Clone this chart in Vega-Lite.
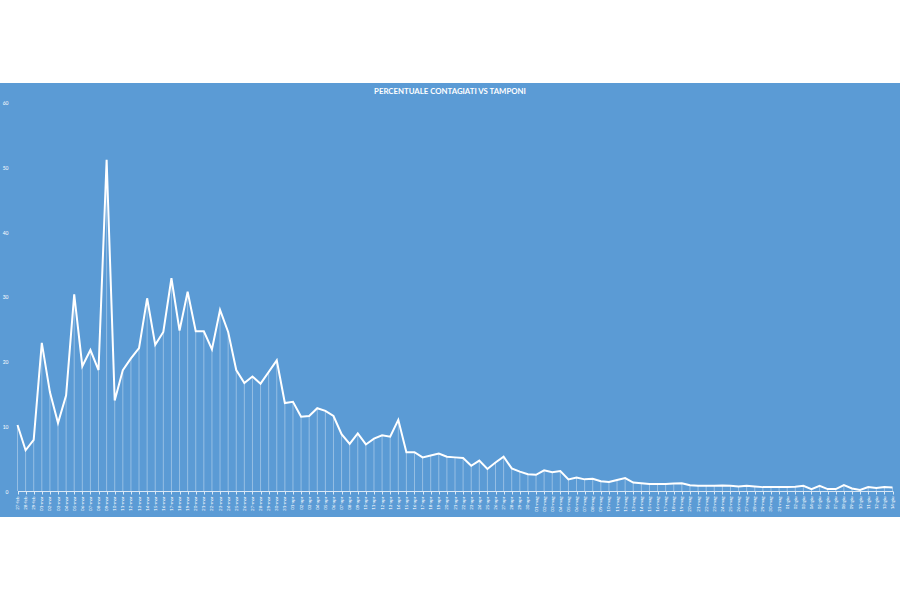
{
  "$schema": "https://vega.github.io/schema/vega-lite/v6.json",
  "width": 900,
  "height": 434,
  "autosize": {"type": "none"},
  "padding": {"top": 83, "bottom": 83, "left": 0, "right": 0},
  "background": "white",
  "config": {
    "font": "Lato",
    "view": {"fill": "#5B9BD5", "stroke": null}
  },
  "title": {
    "text": "PERCENTUALE  CONTAGIATI  VS TAMPONI",
    "fontSize": 7.8,
    "fontWeight": "bold",
    "color": "white",
    "offset": -17,
    "baseline": "middle"
  },
  "data": {
    "values": [
      {"giorno": "27-feb", "perc": 10.2},
      {"giorno": "28-feb", "perc": 6.3},
      {"giorno": "29-feb", "perc": 7.9},
      {"giorno": "01-mar", "perc": 22.9},
      {"giorno": "02-mar", "perc": 15.3},
      {"giorno": "03-mar", "perc": 10.5},
      {"giorno": "04-mar", "perc": 14.8},
      {"giorno": "05-mar", "perc": 30.4},
      {"giorno": "06-mar", "perc": 19.3},
      {"giorno": "07-mar", "perc": 21.8},
      {"giorno": "08-mar", "perc": 18.7},
      {"giorno": "09-mar", "perc": 51.2},
      {"giorno": "10-mar", "perc": 14.0},
      {"giorno": "11-mar", "perc": 18.7},
      {"giorno": "12-mar", "perc": 20.5},
      {"giorno": "13-mar", "perc": 22.1},
      {"giorno": "14-mar", "perc": 29.8},
      {"giorno": "15-mar", "perc": 22.6},
      {"giorno": "16-mar", "perc": 24.6},
      {"giorno": "17-mar", "perc": 32.9},
      {"giorno": "18-mar", "perc": 24.8},
      {"giorno": "19-mar", "perc": 30.8},
      {"giorno": "20-mar", "perc": 24.7},
      {"giorno": "21-mar", "perc": 24.7},
      {"giorno": "22-mar", "perc": 21.9},
      {"giorno": "23-mar", "perc": 28.0},
      {"giorno": "24-mar", "perc": 24.6},
      {"giorno": "25-mar", "perc": 18.7},
      {"giorno": "26-mar", "perc": 16.7},
      {"giorno": "27-mar", "perc": 17.7},
      {"giorno": "28-mar", "perc": 16.6},
      {"giorno": "29-mar", "perc": 18.4},
      {"giorno": "30-mar", "perc": 20.2},
      {"giorno": "31-mar", "perc": 13.6},
      {"giorno": "01-apr", "perc": 13.8},
      {"giorno": "02-apr", "perc": 11.5},
      {"giorno": "03-apr", "perc": 11.6},
      {"giorno": "04-apr", "perc": 12.8},
      {"giorno": "05-apr", "perc": 12.4},
      {"giorno": "06-apr", "perc": 11.6},
      {"giorno": "07-apr", "perc": 8.8},
      {"giorno": "08-apr", "perc": 7.3},
      {"giorno": "09-apr", "perc": 8.9},
      {"giorno": "10-apr", "perc": 7.2},
      {"giorno": "11-apr", "perc": 8.1},
      {"giorno": "12-apr", "perc": 8.6},
      {"giorno": "13-apr", "perc": 8.4},
      {"giorno": "14-apr", "perc": 11.0},
      {"giorno": "15-apr", "perc": 6.0},
      {"giorno": "16-apr", "perc": 6.0},
      {"giorno": "17-apr", "perc": 5.2},
      {"giorno": "18-apr", "perc": 5.5},
      {"giorno": "19-apr", "perc": 5.8},
      {"giorno": "20-apr", "perc": 5.3},
      {"giorno": "21-apr", "perc": 5.2},
      {"giorno": "22-apr", "perc": 5.1},
      {"giorno": "23-apr", "perc": 3.9},
      {"giorno": "24-apr", "perc": 4.7},
      {"giorno": "25-apr", "perc": 3.4},
      {"giorno": "26-apr", "perc": 4.4},
      {"giorno": "27-apr", "perc": 5.3},
      {"giorno": "28-apr", "perc": 3.5},
      {"giorno": "29-apr", "perc": 3.0},
      {"giorno": "30-apr", "perc": 2.6},
      {"giorno": "01-mag", "perc": 2.5},
      {"giorno": "02-mag", "perc": 3.2},
      {"giorno": "03-mag", "perc": 2.9},
      {"giorno": "04-mag", "perc": 3.1},
      {"giorno": "05-mag", "perc": 1.8},
      {"giorno": "06-mag", "perc": 2.1},
      {"giorno": "07-mag", "perc": 1.8},
      {"giorno": "08-mag", "perc": 1.9},
      {"giorno": "09-mag", "perc": 1.5},
      {"giorno": "10-mag", "perc": 1.4},
      {"giorno": "11-mag", "perc": 1.7},
      {"giorno": "12-mag", "perc": 2.0},
      {"giorno": "13-mag", "perc": 1.3},
      {"giorno": "14-mag", "perc": 1.2},
      {"giorno": "15-mag", "perc": 1.1},
      {"giorno": "16-mag", "perc": 1.1},
      {"giorno": "17-mag", "perc": 1.1},
      {"giorno": "18-mag", "perc": 1.15},
      {"giorno": "19-mag", "perc": 1.2},
      {"giorno": "20-mag", "perc": 0.9},
      {"giorno": "21-mag", "perc": 0.8},
      {"giorno": "22-mag", "perc": 0.8},
      {"giorno": "23-mag", "perc": 0.8},
      {"giorno": "24-mag", "perc": 0.85},
      {"giorno": "25-mag", "perc": 0.8},
      {"giorno": "26-mag", "perc": 0.7},
      {"giorno": "27-mag", "perc": 0.8},
      {"giorno": "28-mag", "perc": 0.7},
      {"giorno": "29-mag", "perc": 0.6},
      {"giorno": "30-mag", "perc": 0.6},
      {"giorno": "31-mag", "perc": 0.6},
      {"giorno": "01-giu", "perc": 0.6},
      {"giorno": "02-giu", "perc": 0.65},
      {"giorno": "03-giu", "perc": 0.8},
      {"giorno": "04-giu", "perc": 0.3},
      {"giorno": "05-giu", "perc": 0.8},
      {"giorno": "06-giu", "perc": 0.3},
      {"giorno": "07-giu", "perc": 0.3},
      {"giorno": "08-giu", "perc": 0.9},
      {"giorno": "09-giu", "perc": 0.4},
      {"giorno": "10-giu", "perc": 0.15},
      {"giorno": "11-giu", "perc": 0.6},
      {"giorno": "12-giu", "perc": 0.45},
      {"giorno": "13-giu", "perc": 0.6},
      {"giorno": "14-giu", "perc": 0.55}
    ]
  },
  "encoding": {
    "x": {
      "field": "giorno",
      "type": "nominal",
      "sort": null,
      "scale": {"type": "point", "padding": 0, "range": [17.5, 892.5]},
      "axis": {
        "title": null,
        "offset": -26,
        "grid": false,
        "labelAngle": 270,
        "labelFontSize": 4.5,
        "labelColor": "white",
        "labelOverlap": false,
        "labelPadding": 2,
        "domainColor": "#dbe8f5",
        "tickColor": "#dbe8f5",
        "tickSize": 3
      }
    }
  },
  "layer": [
    {
      "mark": {"type": "rule", "color": "white", "opacity": 0.45, "strokeWidth": 0.8},
      "encoding": {
        "y": {
          "field": "perc",
          "type": "quantitative",
          "scale": {"domain": [-4.02, 63.09], "nice": false, "zero": false},
          "axis": {
            "title": null,
            "values": [0, 10, 20, 30, 40, 50, 60],
            "offset": -9,
            "grid": false,
            "domain": false,
            "ticks": false,
            "labelFontSize": 5,
            "labelColor": "white",
            "labelPadding": 1
          }
        },
        "y2": {"datum": 0}
      }
    },
    {
      "mark": {"type": "line", "color": "white", "strokeWidth": 2},
      "encoding": {
        "y": {"field": "perc", "type": "quantitative"}
      }
    }
  ]
}
